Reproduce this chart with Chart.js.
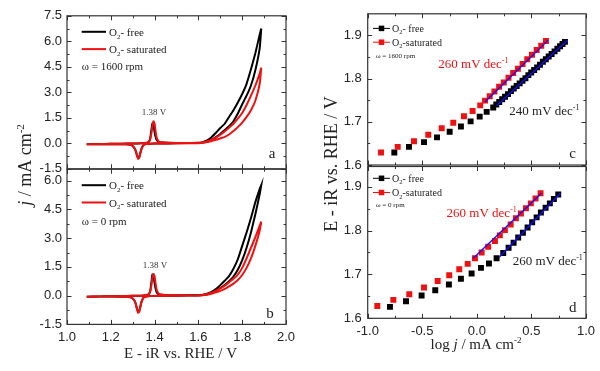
<!DOCTYPE html>
<html>
<head>
<meta charset="utf-8">
<title>CV and Tafel plots</title>
<script src="https://cdn.jsdelivr.net/npm/chart.js@4.4.1/dist/chart.umd.min.js"></script>
<style>
  body { margin: 0; background: #fff; }
  #fig { position: relative; width: 600px; height: 371px; }
  #fig canvas { position: absolute; left: 0; top: 0; }
</style>
</head>
<body>
<div id="fig">
  <canvas id="cvA" width="600" height="371"></canvas>
  <canvas id="cvB" width="600" height="371"></canvas>
  <canvas id="tafelC" width="600" height="371"></canvas>
  <canvas id="tafelD" width="600" height="371"></canvas>
</div>
<script>
// ---- CV data (E - iR vs RHE / V, j / mA cm-2) ----
// anodic scan and return scan potentials
var potFwd = [1.09, 1.15, 1.20, 1.25, 1.30, 1.34, 1.36, 1.37, 1.375, 1.38, 1.385, 1.39, 1.395, 1.40, 1.405, 1.41, 1.42, 1.44, 1.50, 1.55,
              1.60, 1.62, 1.64, 1.66, 1.68, 1.70, 1.72, 1.74, 1.76, 1.78, 1.80, 1.82, 1.84, 1.86, 1.88, 1.887];
var potRev = [1.887, 1.88, 1.86, 1.84, 1.82, 1.80, 1.78, 1.76, 1.74, 1.72, 1.70, 1.68, 1.66, 1.64, 1.62, 1.60,
              1.50, 1.42, 1.38, 1.36, 1.35, 1.345, 1.34, 1.335, 1.33, 1.325, 1.32, 1.315, 1.31, 1.30, 1.29, 1.27, 1.20, 1.15, 1.09];

// panel a, 1600 rpm
var jFreeFwdA = [-0.06, -0.04, -0.03, -0.02, -0.01, 0.00, 0.02, 0.06, 0.12, 0.30, 0.75, 1.18, 1.10, 0.65, 0.35, 0.18, 0.08, 0.04, 0.02, 0.02,
                 0.02, 0.05, 0.10, 0.20, 0.36, 0.55, 0.78, 1.00, 1.30, 1.75, 2.30, 2.80, 3.40, 4.30, 5.60, 6.75];
var jFreeRevA = [6.75, 6.40, 5.30, 4.35, 3.50, 2.90, 2.40, 1.95, 1.55, 1.15, 0.90, 0.62, 0.36, 0.17, 0.07, 0.03,
                 0.00, -0.01, -0.02, -0.04, -0.10, -0.18, -0.32, -0.55, -0.80, -0.88, -0.72, -0.50, -0.32, -0.16, -0.09, -0.06, -0.05, -0.05, -0.06];
var jSatFwdA = [-0.06, -0.04, -0.03, -0.02, -0.01, 0.00, 0.02, 0.05, 0.10, 0.25, 0.55, 1.05, 1.30, 1.15, 0.65, 0.30, 0.10, 0.05, 0.02, 0.02,
                0.01, 0.03, 0.07, 0.13, 0.20, 0.29, 0.38, 0.52, 0.72, 0.95, 1.22, 1.55, 1.95, 2.50, 3.50, 4.45];
var jSatRevA = [4.45, 4.10, 3.40, 2.80, 2.25, 1.78, 1.45, 1.15, 0.92, 0.70, 0.50, 0.34, 0.22, 0.13, 0.06, 0.02,
                0.00, -0.01, -0.02, -0.04, -0.10, -0.20, -0.35, -0.60, -0.85, -0.92, -0.75, -0.50, -0.32, -0.16, -0.09, -0.06, -0.05, -0.05, -0.06];

// panel b, 0 rpm
var jFreeFwdB = [-0.06, -0.04, -0.03, -0.02, -0.01, 0.00, 0.02, 0.05, 0.10, 0.25, 0.65, 1.10, 1.05, 0.65, 0.35, 0.17, 0.07, 0.04, 0.02, 0.02,
                 0.01, 0.03, 0.07, 0.15, 0.27, 0.40, 0.55, 0.75, 1.00, 1.35, 1.85, 2.50, 3.30, 4.25, 5.30, 5.77];
var jFreeRevB = [5.77, 5.58, 4.88, 4.05, 3.30, 2.60, 1.90, 1.40, 1.02, 0.78, 0.55, 0.35, 0.20, 0.10, 0.05, 0.02,
                 0.00, -0.01, -0.02, -0.04, -0.10, -0.18, -0.32, -0.55, -0.80, -0.86, -0.70, -0.48, -0.30, -0.15, -0.09, -0.06, -0.05, -0.05, -0.06];
var jSatFwdB = [-0.06, -0.04, -0.03, -0.02, -0.01, 0.00, 0.02, 0.05, 0.10, 0.22, 0.50, 0.95, 1.13, 1.00, 0.60, 0.28, 0.10, 0.05, 0.02, 0.02,
                0.01, 0.02, 0.05, 0.10, 0.17, 0.25, 0.35, 0.48, 0.63, 0.82, 1.08, 1.45, 1.95, 2.60, 3.40, 3.86];
var jSatRevB = [3.86, 3.65, 3.05, 2.50, 1.95, 1.45, 1.10, 0.88, 0.70, 0.52, 0.38, 0.25, 0.15, 0.08, 0.04, 0.01,
                0.00, -0.01, -0.02, -0.04, -0.10, -0.20, -0.35, -0.60, -0.83, -0.89, -0.72, -0.48, -0.30, -0.15, -0.09, -0.06, -0.05, -0.05, -0.06];

// ---- Tafel data (log j / mA cm-2, E - iR / V) ----
// panel c, 1600 rpm
var logjFreeC = [-0.756, -0.622, -0.484, -0.365, -0.249, -0.146, -0.057, 0.026, 0.090, 0.150,
                 0.178, 0.205, 0.232, 0.258, 0.285, 0.312, 0.338, 0.365, 0.392, 0.418, 0.445, 0.472, 0.498,
                 0.525, 0.552, 0.578, 0.605, 0.632, 0.658, 0.685, 0.712, 0.738, 0.762, 0.785, 0.807];
var eFreeC = [1.629, 1.642, 1.653, 1.664, 1.677, 1.689, 1.701, 1.712, 1.723, 1.733,
              1.740, 1.746, 1.752, 1.758, 1.764, 1.771, 1.777, 1.783, 1.789, 1.795, 1.801, 1.808, 1.814,
              1.820, 1.826, 1.832, 1.839, 1.845, 1.851, 1.857, 1.863, 1.869, 1.875, 1.880, 1.885];
var logjSatC = [-0.878, -0.725, -0.576, -0.445, -0.322, -0.216, -0.118, -0.039,
                0.031, 0.075, 0.118, 0.161, 0.204, 0.247, 0.290, 0.333, 0.376, 0.419, 0.462, 0.505, 0.548, 0.590, 0.633];
var eSatC = [1.629, 1.642, 1.655, 1.670, 1.685, 1.698, 1.713, 1.725,
             1.738, 1.749, 1.759, 1.770, 1.781, 1.791, 1.802, 1.813, 1.823, 1.834, 1.845, 1.855, 1.866, 1.876, 1.887];
var logjFitFreeC = [0.181, 0.830];
var eFitFreeC = [1.737, 1.889];
var logjFitSatC = [0.074, 0.654];
var eFitSatC = [1.746, 1.889];

// panel d, 0 rpm
var logjFreeD = [-0.796, -0.649, -0.506, -0.381, -0.256, -0.146, -0.048, 0.038, 0.111, 0.181, 0.242, 0.291,
                 0.337, 0.379, 0.422, 0.465, 0.507, 0.548, 0.587, 0.630, 0.669, 0.706, 0.746];
var eFreeD = [1.626, 1.639, 1.652, 1.664, 1.677, 1.690, 1.702, 1.715, 1.725, 1.737, 1.749, 1.761,
              1.772, 1.784, 1.795, 1.807, 1.819, 1.830, 1.841, 1.852, 1.862, 1.872, 1.882];
var logjSatD = [-0.912, -0.765, -0.619, -0.484, -0.359, -0.253, -0.161, -0.084, -0.017, 0.044, 0.104,
                0.166, 0.211, 0.257, 0.310, 0.358, 0.404, 0.450, 0.495, 0.538, 0.584];
var eSatD = [1.628, 1.642, 1.655, 1.670, 1.685, 1.698, 1.712, 1.724, 1.737, 1.750, 1.763,
             1.776, 1.789, 1.801, 1.814, 1.828, 1.839, 1.851, 1.862, 1.873, 1.885];
var logjFitFreeD = [0.205, 0.767];
var eFitFreeD = [1.739, 1.885];
var logjFitSatD = [-0.033, 0.593];
var eFitSatD = [1.737, 1.885];

var SERIF = "'Liberation Serif', 'Times New Roman', serif";
var SANS = "'Liberation Sans', Arial, sans-serif";
var INK = '#222';
var RED = '#f01010';
var BLUE = '#1010ff';
var AXIS_BOX = 40;   // room kept for tick labels

function toPoints(xs, ys) {
    return xs.map(function (x, i) { return { x: x, y: ys[i] }; });
}
function cvLoop(fwd, rev) {
    return toPoints(potFwd, fwd).concat(toPoints(potRev, rev));
}

// text piece: t = text, s = size, up = raise in px, it = italic
function T(t, s, up, it) { return { t: t, s: s, up: up || 0, it: !!it }; }

function drawRich(ctx, parts, x, y, align, rotate, color) {
    ctx.save();
    ctx.translate(x, y);
    if (rotate) ctx.rotate(-Math.PI / 2);
    ctx.fillStyle = color || INK;
    ctx.textBaseline = 'alphabetic';
    ctx.textAlign = 'left';
    var fonts = parts.map(function (p) { return (p.it ? 'italic ' : '') + p.s + 'px ' + SERIF; });
    var w = 0;
    parts.forEach(function (p, i) { ctx.font = fonts[i]; w += ctx.measureText(p.t).width; });
    var cx = align === 'center' ? -w / 2 : 0;
    parts.forEach(function (p, i) {
        ctx.font = fonts[i];
        ctx.fillText(p.t, cx, -p.up);
        cx += ctx.measureText(p.t).width;
    });
    ctx.restore();
}

// frame plus inward ticks on all four sides (Origin style)
var inwardTicks = {
    id: 'inwardTicks',
    afterDatasetsDraw: function (chart) {
        var ctx = chart.ctx, a = chart.chartArea;
        ctx.save();
        ctx.strokeStyle = '#333';
        ctx.lineWidth = 1;
        ['x', 'y'].forEach(function (id) {
            var s = chart.scales[id];
            var vals = s.ticks.map(function (t) { return t.value; });
            var marks = [];
            vals.forEach(function (v, i) {
                marks.push([v, 4.5]);
                var next = i < vals.length - 1 ? vals[i + 1] : v + (v - vals[i - 1]);
                var mid = (v + next) / 2;
                if (mid < s.max - 1e-6) marks.push([mid, 2.5]);
            });
            marks.forEach(function (m) {
                var p = Math.round(s.getPixelForValue(m[0])) + 0.5;
                ctx.beginPath();
                if (id === 'x') {
                    ctx.moveTo(p, a.bottom); ctx.lineTo(p, a.bottom - m[1]);
                    ctx.moveTo(p, a.top); ctx.lineTo(p, a.top + m[1]);
                } else {
                    ctx.moveTo(a.left, p); ctx.lineTo(a.left + m[1], p);
                    ctx.moveTo(a.right, p); ctx.lineTo(a.right - m[1], p);
                }
                ctx.stroke();
            });
        });
        ctx.lineWidth = 1.2;
        ctx.strokeRect(a.left, a.top, a.right - a.left, a.bottom - a.top);
        ctx.restore();
    }
};

// legend, annotations and axis titles; settings kept in a closure
function panelText(items, lg) {
    return {
        id: 'panelText',
        afterDraw: function (chart) {
            var ctx = chart.ctx, a = chart.chartArea;
            var sx = chart.scales.x, sy = chart.scales.y;
            items.forEach(function (it) {
                var x, y;
                if (it.at) {
                    x = sx.getPixelForValue(it.at[0]);
                    y = sy.getPixelForValue(it.at[1]);
                } else if (it.abs) {
                    x = it.abs[0]; y = it.abs[1];
                } else {
                    x = (it.fromRight ? a.right : a.left) + it.dx;
                    y = (it.fromBottom ? a.bottom : a.top) + it.dy;
                }
                drawRich(ctx, it.parts, x, y, it.align, it.rotate, it.color);
            });
            var row = 0;
            chart.data.datasets.forEach(function (ds) {
                if (!ds.legendParts) return;
                var x0 = a.left + lg.dx;
                var y = a.top + lg.dy + row * lg.gap;
                ctx.save();
                ctx.strokeStyle = ds.legendColor;
                ctx.lineWidth = lg.lw;
                ctx.beginPath();
                ctx.moveTo(x0, y); ctx.lineTo(x0 + lg.len, y);
                ctx.stroke();
                if (lg.marker) {
                    ctx.fillStyle = ds.legendColor;
                    ctx.fillRect(x0 + lg.len / 2 - lg.marker / 2, y - lg.marker / 2, lg.marker, lg.marker);
                }
                ctx.restore();
                drawRich(ctx, ds.legendParts, x0 + lg.len + lg.text, y + lg.base, 'left', false, INK);
                row++;
            });
        }
    };
}

function axis(o, which) {
    return {
        type: 'linear',
        min: o.min,
        max: o.max,
        grid: { display: false, drawTicks: false },
        border: { display: false },
        ticks: {
            stepSize: o.step,
            includeBounds: false,
            autoSkip: false,
            maxRotation: 0,
            display: o.labels,
            padding: o.pad,
            color: INK,
            font: { family: SANS, size: 13 },
            callback: function (v) { return Number(v).toFixed(1); }
        },
        afterFit: function (s) {
            var room = o.labels ? AXIS_BOX : 0;
            if (which === 'x') s.height = room; else s.width = room;
        }
    };
}

// area = wanted plot rectangle edges in page pixels
function panel(id, o) {
    var xRoom = o.x.labels ? AXIS_BOX : 0;
    var yRoom = o.y.labels ? AXIS_BOX : 0;
    return new Chart(document.getElementById(id), {
        type: 'scatter',
        data: { datasets: o.datasets },
        options: {
            responsive: false,
            animation: false,
            devicePixelRatio: 1,
            events: [],
            layout: {
                autoPadding: false,
                padding: {
                    left: o.area.left - yRoom,
                    right: 600 - o.area.right,
                    top: o.area.top,
                    bottom: 371 - o.area.bottom - xRoom
                }
            },
            plugins: { legend: { display: false }, tooltip: { enabled: false } },
            scales: { x: axis(o.x, 'x'), y: axis(o.y, 'y') }
        },
        plugins: [inwardTicks, panelText(o.items, o.legend)]
    });
}

function o2Label(rest, s, sub) {
    return [T('O', s), T('2', sub, -s * 0.25), T(rest, s)];
}

function cvSet(parts, color, data, order) {
    return {
        legendParts: parts, legendColor: color, data: data,
        showLine: true, borderColor: color, borderWidth: 2, pointRadius: 0,
        tension: 0.15, order: order
    };
}
function pointSet(parts, color, xs, ys, order) {
    return {
        legendParts: parts, legendColor: color, data: toPoints(xs, ys),
        showLine: false, pointStyle: 'rect', pointRadius: 4.2,
        backgroundColor: color, borderWidth: 0, order: order
    };
}
function fitSet(xs, ys) {
    return {
        data: toPoints(xs, ys), showLine: true, borderColor: BLUE,
        borderWidth: 1.3, pointRadius: 0, order: 0
    };
}

var cvX = { min: 1.0, max: 2.0, step: 0.2, pad: 5 };
var cvLegend = { dx: 14.7, dy: 16, gap: 17.3, len: 24.3, lw: 2, text: 3, base: 4 };
var tafelX = { min: -1.0, max: 1.0, step: 0.5, pad: 5 };

// a: 1600 rpm CV
panel('cvA', {
    area: { left: 67, right: 286, top: 15.8, bottom: 168.8 },
    x: Object.assign({}, cvX, { labels: false }),
    y: { min: -1.5, max: 7.5, step: 1.5, labels: true, pad: 5 },
    datasets: [
        cvSet(o2Label('- free', 11, 7), '#000', cvLoop(jFreeFwdA, jFreeRevA), 2),
        cvSet(o2Label('- saturated', 11, 7), RED, cvLoop(jSatFwdA, jSatRevA), 1)
    ],
    legend: cvLegend,
    items: [
        { parts: [T('\u03C9 = 1600 rpm', 11)], dx: 14.7, dy: 54.5 },
        { parts: [T('1.38 V', 9)], at: [1.397, 1.66], align: 'center', color: '#333' },
        { parts: [T('a', 15)], dx: -14, dy: -11.3, fromRight: true, fromBottom: true, align: 'center' }
    ]
});

// b: 0 rpm CV
panel('cvB', {
    area: { left: 67, right: 286, top: 169.2, bottom: 324.4 },
    x: Object.assign({}, cvX, { labels: true }),
    y: { min: -1.5, max: 6.6, step: 1.5, labels: true, pad: 5 },
    datasets: [
        cvSet(o2Label('- free', 11, 7), '#000', cvLoop(jFreeFwdB, jFreeRevB), 2),
        cvSet(o2Label('- saturated', 11, 7), RED, cvLoop(jSatFwdB, jSatRevB), 1)
    ],
    legend: cvLegend,
    items: [
        { parts: [T('\u03C9 = 0 rpm', 11)], dx: 14.7, dy: 56.1 },
        { parts: [T('1.38 V', 9)], at: [1.402, 1.42], align: 'center', color: '#333' },
        { parts: [T('b', 15)], dx: -16, dy: -6.4, fromRight: true, fromBottom: true, align: 'center' },
        { parts: [T('E - iR vs. RHE / V', 15)], dx: 113.5, dy: 33.6, fromBottom: true, align: 'center' },
        { parts: [T('j', 18, 0, true), T(' / mA cm', 18), T('-2', 11, 7)], abs: [31, 165], rotate: true, align: 'center' }
    ]
});

// c: 1600 rpm Tafel
panel('tafelC', {
    area: { left: 367.7, right: 586, top: 11.4, bottom: 165 },
    x: Object.assign({}, tafelX, { labels: false }),
    y: { min: 1.6, max: 1.95, step: 0.1, labels: true, pad: 6 },
    datasets: [
        pointSet(o2Label('- free', 10, 6.5), '#000', logjFreeC, eFreeC, 2),
        pointSet(o2Label('-saturated', 10, 6.5), RED, logjSatC, eSatC, 1),
        fitSet(logjFitFreeC, eFitFreeC),
        fitSet(logjFitSatC, eFitSatC)
    ],
    legend: { dx: 5.3, dy: 14.6, gap: 13.8, len: 17, lw: 1, marker: 5.5, text: 2, base: 3.5 },
    items: [
        { parts: [T('\u03C9 = 1600 rpm', 7)], dx: 8.3, dy: 44.4 },
        { parts: [T('260 mV dec', 13), T('-1', 8, 5)], at: [-0.353, 1.8244], color: RED },
        { parts: [T('240 mV dec', 13), T('-1', 8, 5)], at: [0.297, 1.716] },
        { parts: [T('c', 15)], dx: -13.3, dy: -7.5, fromRight: true, fromBottom: true, align: 'center' },
        { parts: [T('E - iR vs. RHE / V', 18)], abs: [337, 164], rotate: true, align: 'center' }
    ]
});

// d: 0 rpm Tafel
panel('tafelD', {
    area: { left: 367.7, right: 586, top: 166.5, bottom: 318.3 },
    x: Object.assign({}, tafelX, { labels: true }),
    y: { min: 1.6, max: 1.946, step: 0.1, labels: true, pad: 6 },
    datasets: [
        pointSet(o2Label('- free', 10, 6.5), '#000', logjFreeD, eFreeD, 2),
        pointSet(o2Label('-saturated', 10, 6.5), RED, logjSatD, eSatD, 1),
        fitSet(logjFitFreeD, eFitFreeD),
        fitSet(logjFitSatD, eFitSatD)
    ],
    legend: { dx: 5.3, dy: 11.8, gap: 14.2, len: 17, lw: 1, marker: 5.5, text: 2, base: 3.5 },
    items: [
        { parts: [T('\u03C9 = 0 rpm', 7)], dx: 8.3, dy: 40.3 },
        { parts: [T('260 mV dec', 13), T('-1', 8, 5)], at: [-0.277, 1.8308], color: RED },
        { parts: [T('260 mV dec', 13), T('-1', 8, 5)], at: [0.328, 1.7214] },
        { parts: [T('d', 15)], dx: -13.3, dy: -6.3, fromRight: true, fromBottom: true, align: 'center' },
        { parts: [T('log ', 15), T('j', 15, 0, true), T(' / mA cm', 15), T('-2', 9, 6)], dx: 108.3, dy: 30.2, fromBottom: true, align: 'center' }
    ]
});
</script>
</body>
</html>
